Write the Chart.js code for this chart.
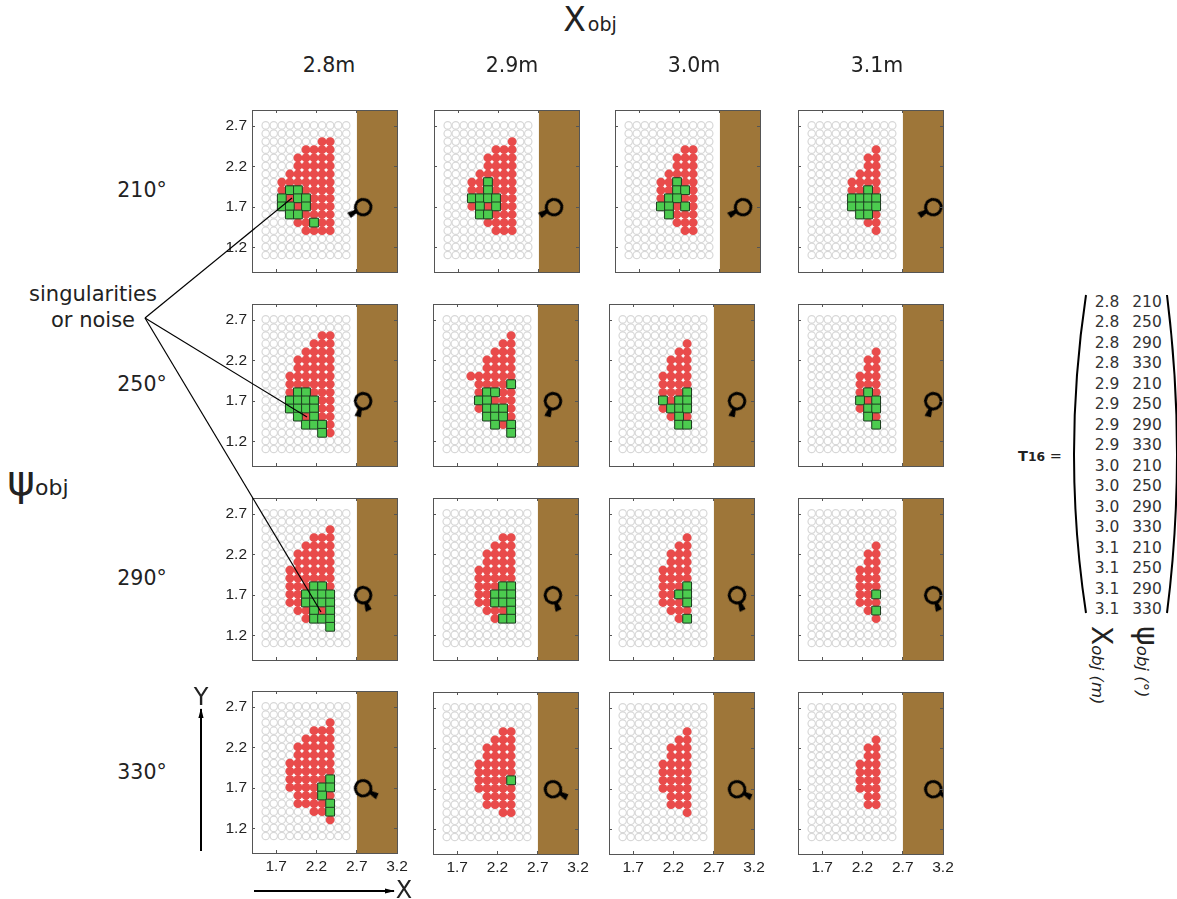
<!DOCTYPE html>
<html>
<head>
<meta charset="utf-8">
<title>T16 workspace grid</title>
<script src="https://cdn.jsdelivr.net/npm/chart.js@4/dist/chart.umd.min.js"></script>
<style>
  html, body { margin: 0; padding: 0; background: #fff; }
  body { position: relative; width: 1177px; height: 899px; overflow: hidden; font-family: "DejaVu Sans", sans-serif; color: #222; }
  canvas { position: absolute; }
  .t { position: absolute; white-space: nowrap; line-height: 1; }
  svg { position: absolute; left: 0; top: 0; z-index: 5; }
  .rot { transform-origin: 0 0; transform: rotate(90deg); }
</style>
</head>
<body>
<svg id="notes" width="1177" height="899"></svg>
<script>
// axis labels
const xObjLabels = ['2.8m', '2.9m', '3.0m', '3.1m'];
const psiLabels = ['210°', '250°', '290°', '330°'];
const xTicks = [1.7, 2.2, 2.7, 3.2];
const yTicks = [2.7, 2.2, 1.7, 1.2];

// object pose in each panel
const objX = [2.78, 2.89, 2.99, 3.08];
const objY = 1.7;
const objPsi = [210, 250, 290, 330];
const wallX = [2.7, 3.2];

// workspace grid
const xGrid = [1.57, 1.67, 1.77, 1.87, 1.97, 2.07, 2.17, 2.27, 2.37, 2.47, 2.57];
const yGrid = [2.71, 2.61, 2.51, 2.41, 2.31, 2.21, 2.11, 2.01, 1.91, 1.81, 1.71, 1.61, 1.51, 1.41, 1.31, 1.21, 1.11];

// r = reachable, g = reachable and good, . = empty. top row is y = 2.7
const cells_28_210 = ['...........', '...........', '.......rr..', '.....rrrr..', '....rrrrr..', '....rrrrr..', '...rrrrrr..', '..rrrrrrr..', '..rggrrrr..', '..grggrrr..', '..ggrgrrr..', '...ggrrrr..', '....rrgrr..', '.....rrrr..', '...........', '...........', '...........'];
const cells_29_210 = ['...........', '...........', '........r..', '......rrr..', '.....rrrr..', '.....rrrr..', '....rrrrr..', '...rrgrrr..', '...rrgrrr..', '...ggggrr..', '...rgrgrr..', '....ggrrr..', '.....rrrr..', '......rrr..', '...........', '...........', '...........'];
const cells_30_210 = ['...........', '...........', '...........', '.......rr..', '......rrr..', '......rrr..', '.....rrrr..', '....rrgrr..', '....rrggr..', '....rggrr..', '....ggrgr..', '.....grrr..', '......rrr..', '.......rr..', '...........', '...........', '...........'];
const cells_31_210 = ['...........', '...........', '...........', '........r..', '.......rr..', '.......rr..', '......rrr..', '.....rrrr..', '.....rrgr..', '.....gggg..', '.....gggg..', '......ggr..', '.......rr..', '........r..', '...........', '...........', '...........'];

const cells_28_250 = ['...........', '...........', '.......rr..', '......rrr..', '.....rrrr..', '....rrrrr..', '....rrrrr..', '...rrrrrr..', '...rrrrrr..', '...rggrrr..', '...ggggrr..', '...ggggrr..', '....grgrr..', '.....gggr..', '.......gr..', '...........', '...........'];
const cells_29_250 = ['...........', '...........', '........r..', '.......rr..', '......rrr..', '.....rrrr..', '.....rrrr..', '...rrrrrr..', '....rrrrg..', '....rggrr..', '....ggrrr..', '....rgggr..', '.....gggr..', '......grg..', '........g..', '...........', '...........'];
const cells_30_250 = ['...........', '...........', '...........', '........r..', '.......rr..', '......rrr..', '......rrr..', '.....rrrr..', '.....rrrr..', '.....rrrg..', '.....grgg..', '.....rggg..', '......rgr..', '.......gg..', '...........', '...........', '...........'];
const cells_31_250 = ['...........', '...........', '...........', '...........', '........r..', '.......rr..', '.......rr..', '......rrr..', '......rrr..', '......rgr..', '......grg..', '......rgg..', '.......gr..', '........g..', '...........', '...........', '...........'];

const cells_28_290 = ['...........', '...........', '........r..', '......rrr..', '.....rrrr..', '....rrrrr..', '....rrrrr..', '...rrrrrr..', '...rrrrrr..', '...rrrggr..', '...rrgggg..', '...rrgggg..', '....rrgrg..', '.....rggg..', '........g..', '...........', '...........'];
const cells_29_290 = ['...........', '...........', '...........', '.......rr..', '......rrr..', '.....rrrr..', '.....rrrr..', '....rrrrr..', '....rrrrr..', '....rrrgg..', '....rrggg..', '....rrggg..', '.....rrrg..', '......rgg..', '...........', '...........', '...........'];
const cells_30_290 = ['...........', '...........', '...........', '........r..', '.......rr..', '......rrr..', '......rrr..', '.....rrrr..', '.....rrrr..', '.....rrrg..', '.....rrgg..', '.....rrrg..', '......rrr..', '.......rg..', '...........', '...........', '...........'];
const cells_31_290 = ['...........', '...........', '...........', '...........', '........r..', '.......rr..', '.......rr..', '......rrr..', '......rrr..', '......rrr..', '......rrg..', '......rrr..', '.......rg..', '........r..', '...........', '...........', '...........'];

const cells_28_330 = ['...........', '...........', '........r..', '......rrr..', '.....rrrr..', '....rrrrr..', '....rrrrr..', '...rrrrrr..', '...rrrrrr..', '...rrrrrg..', '...rrrrgg..', '....rrrgr..', '....rrrrg..', '......rrg..', '........r..', '...........', '...........'];
const cells_29_330 = ['...........', '...........', '...........', '.......rr..', '......rrr..', '.....rrrr..', '.....rrrr..', '....rrrrr..', '....rrrrr..', '....rrrrg..', '....rrrrr..', '.....rrrr..', '.....rrrr..', '.......rr..', '...........', '...........', '...........'];
const cells_30_330 = ['...........', '...........', '...........', '........r..', '.......rr..', '......rrr..', '......rrr..', '.....rrrr..', '.....rrrr..', '.....rrrr..', '.....rrrr..', '......rrr..', '......rrr..', '........r..', '...........', '...........', '...........'];
const cells_31_330 = ['...........', '...........', '...........', '...........', '........r..', '.......rr..', '.......rr..', '......rrr..', '......rrr..', '......rrr..', '......rrr..', '.......rr..', '.......rr..', '...........', '...........', '...........', '...........'];

const panelCells = [
  [cells_28_210, cells_29_210, cells_30_210, cells_31_210],
  [cells_28_250, cells_29_250, cells_30_250, cells_31_250],
  [cells_28_290, cells_29_290, cells_30_290, cells_31_290],
  [cells_28_330, cells_29_330, cells_30_330, cells_31_330]
];

// where the panels sit on the page
const panelLeft = [
  [252, 434, 615, 798],
  [252, 433, 609, 798],
  [252, 433, 609, 798],
  [252, 433, 609, 798]
];
const panelTop = [
  [110, 110, 110, 110],
  [304, 304, 304, 304],
  [498, 498, 498, 498],
  [691, 692, 692, 692]
];
const plotW = 145, plotH = 162;
const marginL = 40, marginR = 16, marginT = 4, marginB = 28;

// magnifier marker, handle points along +x, rotation turns it to psi
function magnifier() {
  const c = document.createElement('canvas');
  c.width = 44; c.height = 44;
  const g = c.getContext('2d');
  g.strokeStyle = '#000';
  g.lineWidth = 3;
  g.beginPath();
  g.arc(22, 22, 7.8, 0, Math.PI * 2);
  g.stroke();
  g.fillStyle = '#000';
  g.beginPath();
  g.moveTo(30, 20.2); g.lineTo(38, 18.8); g.lineTo(38.6, 25.2); g.lineTo(30, 23.8);
  g.closePath();
  g.fill();
  return c;
}
const magnifierImg = magnifier();

function pick(cells, ch) {
  const out = [];
  cells.forEach((row, r) => {
    [...row].forEach((v, c) => {
      if (v === ch) out.push({ x: xGrid[c], y: yGrid[r] });
    });
  });
  return out;
}

function gridPoints() {
  const out = [];
  yGrid.forEach(y => xGrid.forEach(x => out.push({ x, y })));
  return out;
}

function makePanel(r, c) {
  const cv = document.createElement('canvas');
  cv.width = marginL + plotW + marginR;
  cv.height = marginT + plotH + marginB;
  cv.style.left = (panelLeft[r][c] - marginL) + 'px';
  cv.style.top = (panelTop[r][c] - marginT) + 'px';
  document.body.appendChild(cv);
  const cells = panelCells[r][c];
  const setTicks = list => axis => { axis.ticks = list.map(value => ({ value })); };
  const noPad = s => { s.paddingLeft = s.paddingRight = s.paddingTop = s.paddingBottom = 0; };
  const edge = {
    grid: { drawOnChartArea: false, tickLength: -3, tickColor: '#555', z: 1 },
    border: { color: '#555', width: 1, z: 1 }
  };
  new Chart(cv.getContext('2d'), {
    type: 'scatter',
    data: {
      datasets: [
        // wall
        { type: 'line', order: 5, data: [{ x: wallX[0], y: 2.9 }, { x: wallX[1], y: 2.9 }], borderWidth: 0, pointRadius: 0, fill: 'start', backgroundColor: '#9e7639' },
        { order: 4, data: gridPoints(), pointStyle: 'circle', pointRadius: 3.7, pointBorderWidth: 1.2, pointBackgroundColor: 'rgba(0,0,0,0)', pointBorderColor: '#d8d8d8' },
        { order: 3, data: pick(cells, 'r').concat(pick(cells, 'g')), pointStyle: 'circle', pointRadius: 4.4, pointBorderWidth: 0, pointBackgroundColor: '#e94b4b' },
        { order: 2, data: pick(cells, 'g'), pointStyle: 'rect', pointRadius: 6.2, pointBorderWidth: 1, pointBackgroundColor: '#4ccb4f', pointBorderColor: '#1d3d20' },
        { order: 1, data: [{ x: objX[c], y: objY }], clip: 0, pointStyle: magnifierImg, pointRadius: 10, pointRotation: -objPsi[r] }
      ]
    },
    options: {
      responsive: false,
      animation: false,
      events: [],
      layout: { autoPadding: false, padding: { top: marginT, right: marginR, left: 0, bottom: 0 } },
      plugins: { legend: { display: false }, tooltip: { enabled: false } },
      scales: {
        x: {
          type: 'linear', min: 1.4, max: 3.2, position: 'bottom', ...edge,
          afterBuildTicks: setTicks(xTicks),
          afterFit: s => { s.height = marginB; noPad(s); },
          ticks: { display: r === 3, padding: 7, maxRotation: 0, autoSkip: false, color: '#222', font: { family: 'Liberation Sans', size: 15.5 }, callback: v => v.toFixed(1) }
        },
        y: {
          type: 'linear', min: 0.9, max: 2.9, position: 'left', ...edge,
          afterBuildTicks: setTicks(yTicks),
          afterFit: s => { s.width = marginL; noPad(s); },
          ticks: { display: c === 0, padding: 8, autoSkip: false, color: '#222', font: { family: 'Liberation Sans', size: 15.5 }, callback: v => v.toFixed(1) }
        },
        x2: {
          type: 'linear', min: 1.4, max: 3.2, position: 'top', ...edge,
          afterBuildTicks: setTicks(xTicks),
          afterFit: s => { s.height = 0; noPad(s); },
          ticks: { display: false }
        },
        y2: {
          type: 'linear', min: 0.9, max: 2.9, position: 'right', ...edge,
          afterBuildTicks: setTicks(yTicks),
          afterFit: s => { s.width = 0; noPad(s); },
          ticks: { display: false }
        }
      }
    }
  });
}

for (let r = 0; r < 4; r++) for (let c = 0; c < 4; c++) makePanel(r, c);

// page text
function text(html, x, y, size, extra) {
  const el = document.createElement('div');
  el.className = 't';
  el.innerHTML = html;
  el.style.left = x + 'px';
  el.style.top = y + 'px';
  el.style.fontSize = size + 'px';
  if (extra) Object.assign(el.style, extra);
  document.body.appendChild(el);
  return el;
}
const center = { transform: 'translate(-50%,-50%)' };

text('<span style="font-size:33px">X</span><span style="font-size:19px;margin-left:2px">obj</span>', 590, 19, 33, center);
text('ψ<span style="font-size:22px">obj</span>', 38, 481, 42, center);
const colCenter = [329, 512, 694, 877];
xObjLabels.forEach((s, i) => text(s, colCenter[i], 65, 20.5, center));
const rowCenter = [190, 384, 578, 772];
psiLabels.forEach((s, i) => text(s, 142, rowCenter[i], 20.5, center));
text('singularities', 93, 294, 21, center);
text('or noise', 93, 320, 21, center);
text('Y', 201, 697, 24, center);
text('X', 404, 890, 24, center);

// the T16 table
const tableX = ['2.8', '2.9', '3.0', '3.1'];
const tablePsi = ['210', '250', '290', '330'];
text('<b>T<span style="font-size:.85em">16</span></b> =', 1018, 449, 14.5);
tableX.forEach((x, i) => tablePsi.forEach((p, j) => {
  const y = 302.5 + (i * 4 + j) * 20.5;
  text(x, 1107, y, 15.5, { ...center, color: '#333' });
  text(p, 1147, y, 15.5, { ...center, color: '#333' });
}));
text('<span style="font-size:28px">X</span><span style="font-size:16.5px;font-style:italic">obj (m)</span>', 1115, 626, 28).classList.add('rot');
text('<span style="font-size:30px">ψ</span><span style="font-size:16.5px;font-style:italic">obj (°)</span>', 1162, 626, 30).classList.add('rot');

// leader lines, arrows and matrix brackets
document.getElementById('notes').innerHTML = `
  <defs><marker id="head" markerUnits="userSpaceOnUse" markerWidth="10" markerHeight="6" refX="9" refY="3" orient="auto"><path d="M0 0.4 L10 3 L0 5.6 Z" fill="#000"/></marker></defs>
  <g stroke="#000" stroke-width="1.2" fill="none">
    <path d="M145 318 L292 198"/><path d="M145 318 L307 417"/><path d="M145 318 L321 612"/>
  </g>
  <g stroke="#000" stroke-width="2" fill="none">
    <path d="M201 851 L201 709" marker-end="url(#head)"/>
    <path d="M254 891 L394 891" marker-end="url(#head)"/>
    <path d="M1086 295 Q1062 455 1086 613"/>
    <path d="M1167 295 Q1187 455 1167 613"/>
  </g>`;
</script>
</body>
</html>
